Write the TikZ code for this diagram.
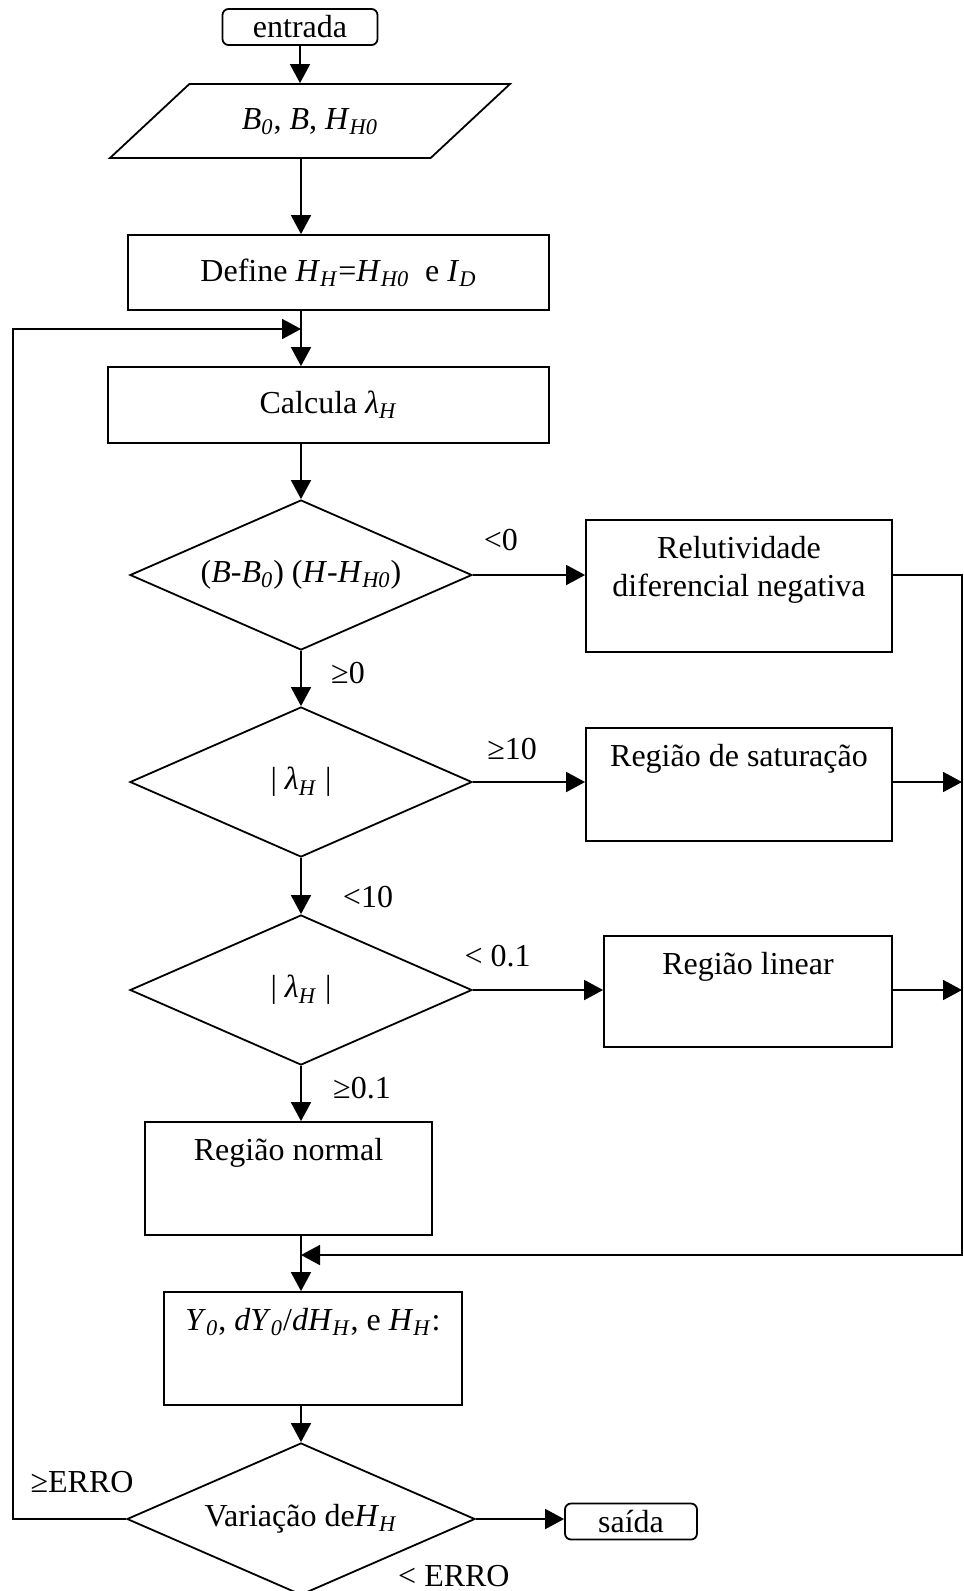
\documentclass[tikz,border=0pt]{standalone}
\usepackage{fontspec}
\setmainfont{Liberation Serif}
\usetikzlibrary{positioning, arrows.meta, shapes.geometric, calc}
\newcommand{\vsub}[2]{\textit{#1}\textsubscript{\textit{#2}}}

\begin{document}
\begin{tikzpicture}[
  x=0.5pt, y=-0.5pt,
  font=\fontsize{16}{19}\selectfont,
  line width=0.9pt,
  block/.style={draw, rectangle, align=center, inner sep=2pt},
  endbox/.style={draw, rectangle, rounded corners=3pt, minimum width=#1, minimum height=18pt, inner sep=0pt},
  decision/.style={draw, diamond, aspect=2.3, minimum width=171pt, minimum height=75pt, inner sep=1pt},
  io/.style={draw, trapezium, trapezium left angle=43, trapezium right angle=137,
             trapezium stretches body, minimum width=200pt,
             text height=11pt, text depth=3pt, inner ysep=11.5pt},
  toptext/.style={anchor=north, yshift=-8pt, align=center, inner sep=0pt},
  lbl/.style={inner sep=0pt},
  arr/.style={-{Triangle[length=9.5pt,width=10pt]}},
]
  \useasboundingbox (0,0) rectangle (964,1591);

  \node[endbox=77.5pt] (entrada) at (300,27) {entrada};
  \node[io] (par) at (310,121) {\vsub{B}{0}, \textit{B}, \vsub{H}{H0}};
  \node[block, minimum width=210.5pt, minimum height=37.5pt] (def) at (338.5,272.5)
    {Define \vsub{H}{H}=\vsub{H}{H0}~ e \vsub{I}{D}};
  \node[block, minimum width=220.5pt, minimum height=38pt] (calc) at (328.5,405) {Calcula \vsub{λ}{H}};

  \node[decision] (d1) at (301,575) {(\textit{B}-\vsub{B}{0}) (\textit{H}-\vsub{H}{H0})};
  \node[block, minimum width=153pt, minimum height=66pt,
        label={[toptext]north:{Relutividade\\diferencial negativa}}] (rel) at (739,586) {};

  \node[decision] (d2) at (301,782) {| \vsub{λ}{H} |};
  \node[block, minimum width=153pt, minimum height=56.5pt,
        label={[toptext]north:{Região de saturação}}] (sat) at (739,784.5) {};

  \node[decision] (d3) at (301,990) {| \vsub{λ}{H} |};
  \node[block, minimum width=144pt, minimum height=55.5pt,
        label={[toptext]north:{Região linear}}] (lin) at (748,991.5) {};

  \node[block, minimum width=143.5pt, minimum height=56.5pt,
        label={[toptext]north:{Região normal}}] (norm) at (288.5,1178.5) {};
  \node[block, minimum width=149pt, minimum height=56.5pt,
        label={[toptext]north:{\vsub{Y}{0}, \textit{dY}\textsubscript{\textit{0}}/\textit{dH}\textsubscript{\textit{H}}, e \vsub{H}{H}:}}]
        (yzero) at (313,1348.5) {};

  \node[decision, minimum width=174pt, minimum height=76pt] (d4) at (301,1519) {Variação de\vsub{H}{H}};
  \node[endbox=66pt] (saida) at (631,1521.5) {saída};

  \coordinate (loopin) at (301,329);
  \coordinate (lrail) at (13,329);
  \coordinate (rrail) at (962,575);
  \coordinate (join) at (301,1255);

  \draw[arr] (entrada) -- (entrada |- par.north);
  \draw[arr] (par.south -| loopin) -- (def.north -| loopin);
  \draw (def.south -| loopin) -- (loopin);
  \draw[arr] (loopin) -- (calc.north -| loopin);
  \draw[arr] (calc.south -| loopin) -- (d1.north);

  \draw[arr] (d1.east) -- node[lbl, pos=0.25, yshift=17.5pt] {<0} (d1.east -| rel.west);
  \draw[arr] (rel.east |- d1.east) -- (rrail) |- (join);
  \draw[arr] (d1.south) -- node[lbl, pos=0.4, xshift=23.5pt] {≥0} (d2.north);

  \draw[arr] (d2.east) -- node[lbl, pos=0.35, yshift=16.5pt] {≥10} (d2.east -| sat.west);
  \draw[arr] (sat.east |- d2.east) -- (rrail |- d2.east);
  \draw[arr] (d2.south) -- node[lbl, pos=0.69, xshift=33.5pt] {<10} (d3.north);

  \draw[arr] (d3.east) -- node[lbl, pos=0.19, yshift=17pt] {< 0.1} (d3.east -| lin.west);
  \draw[arr] (lin.east |- d3.east) -- (rrail |- d3.east);
  \draw[arr] (d3.south) -- node[lbl, pos=0.4, xshift=30.5pt] {≥0.1} (d3.south |- norm.north);

  \draw[arr] (norm.south -| join) -- (yzero.north -| join);
  \draw[arr] (yzero.south -| join) -- (d4.north);
  \draw[arr] (d4.east) -- node[lbl, pos=0, xshift=-11pt, yshift=-28.5pt] {< ERRO} (d4.east -| saida.west);
  \draw[arr] (d4.west) -- node[lbl, pos=0.39, yshift=18.5pt] {≥ERRO} (lrail |- d4.west) -- (lrail) -- (loopin);
\end{tikzpicture}
\end{document}
